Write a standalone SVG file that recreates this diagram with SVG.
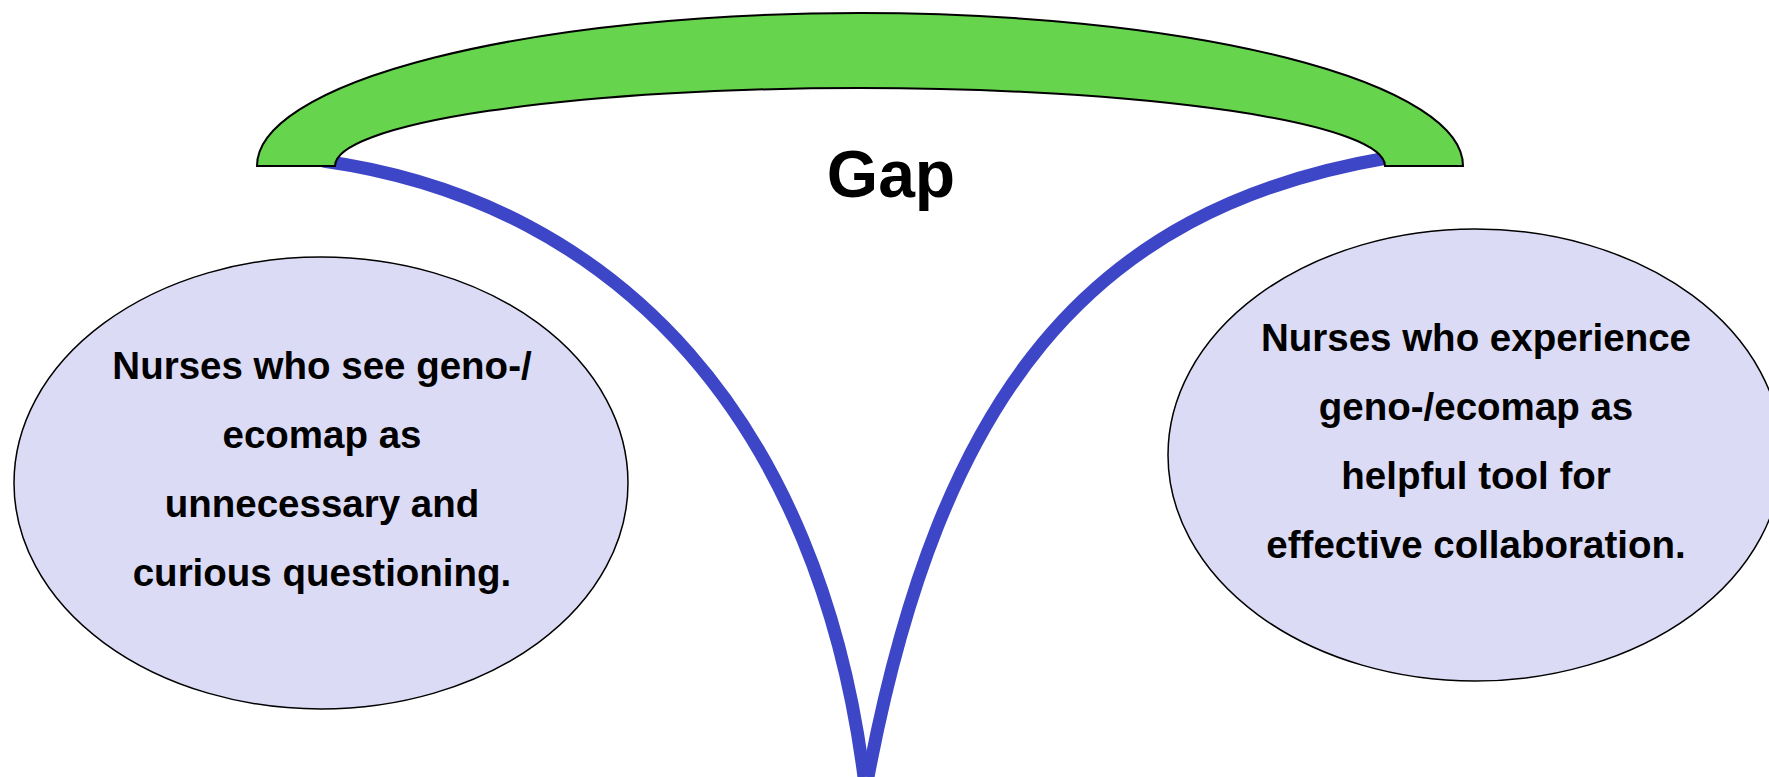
<svg xmlns="http://www.w3.org/2000/svg" width="1769" height="777" viewBox="0 0 1769 777">
<style>
.bg{fill:#ffffff}
.arch{fill:#66d44c;stroke:#000;stroke-width:2;stroke-linejoin:miter}
.branch{fill:none;stroke:#3d46c6;stroke-width:13;stroke-linecap:butt}
.oval{fill:#dbdbf5;stroke:#000;stroke-width:1.5}
.t{font-family:"Liberation Sans",Arial,sans-serif;font-weight:bold;font-size:38.5px;fill:#000;text-anchor:middle}
.gap{font-family:"Liberation Sans",Arial,sans-serif;font-weight:bold;font-size:66px;fill:#000;text-anchor:middle}
</style>
<rect class="bg" x="0" y="0" width="1769" height="777"/>
<g id="connectors">
<path class="branch" d="M 323 161 C 623 203, 819 427, 864 777"/>
<path class="branch" d="M 1387 158 C 1087 209, 940 397, 868 777"/>
</g>
<g id="arch">
<path class="arch" d="M 257 166 A 603 153 0 0 1 1463 166 L 1385 166 A 525 78 0 0 0 335 166 Z"/>
</g>
<g id="gap-label">
<text class="gap" x="891" y="197">Gap</text>
</g>
<g id="left-node">
<ellipse class="oval" cx="321" cy="483" rx="307" ry="226"/>
<text class="t" x="322" y="379">Nurses who see geno-/</text>
<text class="t" x="322" y="448">ecomap as</text>
<text class="t" x="322" y="517">unnecessary and</text>
<text class="t" x="322" y="586">curious questioning.</text>
</g>
<g id="right-node">
<ellipse class="oval" cx="1475" cy="455" rx="307" ry="226"/>
<text class="t" x="1476" y="351">Nurses who experience</text>
<text class="t" x="1476" y="420">geno-/ecomap as</text>
<text class="t" x="1476" y="489">helpful tool for</text>
<text class="t" x="1476" y="558">effective collaboration.</text>
</g>
</svg>
